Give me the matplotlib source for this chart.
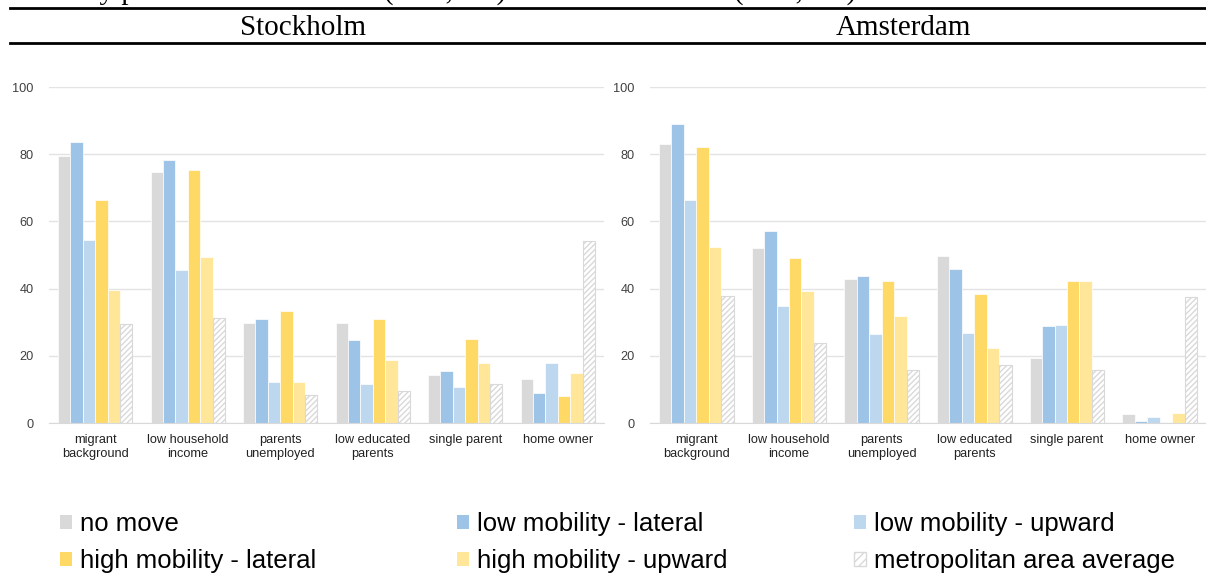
import numpy as np
import matplotlib.pyplot as plt
from matplotlib.patches import Patch
from matplotlib.lines import Line2D

categories = ["migrant\nbackground", "low household\nincome", "parents\nunemployed",
              "low educated\nparents", "single parent", "home owner"]
series = ["no move", "low mobility - lateral", "low mobility - upward",
          "high mobility - lateral", "high mobility - upward", "metropolitan area average"]

# values per series, one entry per category
stockholm = {
    "no move":                   [79.4, 74.7, 29.7, 29.9, 14.3, 13.1],
    "low mobility - lateral":    [83.5, 78.4, 31.0, 24.7, 15.4, 8.9],
    "low mobility - upward":     [54.5, 45.4, 12.2, 11.5, 10.7, 17.9],
    "high mobility - lateral":   [66.3, 75.2, 33.4, 31.0, 25.0, 7.9],
    "high mobility - upward":    [39.7, 49.3, 12.3, 18.7, 17.9, 14.9],
    "metropolitan area average": [29.4, 31.2, 8.3, 9.6, 11.7, 54.2],
}
amsterdam = {
    "no move":                   [83.0, 52.1, 43.0, 49.8, 19.3, 2.6],
    "low mobility - lateral":    [89.0, 57.1, 43.8, 45.7, 28.9, 0.7],
    "low mobility - upward":     [66.3, 34.9, 26.5, 26.8, 29.2, 1.9],
    "high mobility - lateral":   [82.0, 49.1, 42.4, 38.3, 42.3, 0.0],
    "high mobility - upward":    [52.4, 39.4, 31.8, 22.2, 42.3, 2.9],
    "metropolitan area average": [37.9, 23.9, 15.7, 17.2, 15.7, 37.4],
}

colors = ["#d9d9d9", "#9dc3e6", "#bdd7ee", "#ffd966", "#ffe699", "white"]

plt.rcParams['font.family'] = ['Liberation Sans', 'DejaVu Sans']
plt.rcParams['hatch.linewidth'] = 1.0

fig = plt.figure(figsize=(12.06, 5.77), dpi=100)

W, H = 1206, 577
def box(x0, x1, y0, y1):
    return [x0 / W, 1 - y1 / H, (x1 - x0) / W, (y1 - y0) / H]

ax1 = fig.add_axes(box(49, 604, 87, 423))
ax2 = fig.add_axes(box(650, 1206, 87, 423))

x = np.arange(len(categories))
bw = 0.134
for ax, data in [(ax1, stockholm), (ax2, amsterdam)]:
    for i, s in enumerate(series):
        off = (i - 2.5) * bw
        if s == "metropolitan area average":
            ax.bar(x + off, data[s], bw, facecolor="white", edgecolor="#d9d9d9",
                   hatch="//////", linewidth=0.8, zorder=2)
        else:
            ax.bar(x + off, data[s], bw, color=colors[i], edgecolor="white",
                   linewidth=0.5, zorder=2)
    ax.set_ylim(0, 100)
    ax.set_xlim(-0.5, len(categories) - 0.5)
    ax.set_yticks([0, 20, 40, 60, 80, 100])
    ax.yaxis.grid(True, color="#e3e3e3", linewidth=1)
    ax.set_axisbelow(True)
    ax.set_xticks(x)
    ax.set_xticklabels(categories, fontsize=9.2, color="#222222", linespacing=1.25)
    ax.tick_params(axis="both", length=0, labelsize=9.2)
    ax.tick_params(axis="y", pad=11, labelcolor="#404040")
    ax.tick_params(axis="x", pad=8)
    for sp in ["top", "right", "left"]:
        ax.spines[sp].set_visible(False)
    ax.spines["bottom"].set_color("#d9d9d9")

# header with rules
fig.add_artist(Line2D([10 / W, 1], [1 - 8 / H] * 2, color="black", linewidth=2))
fig.add_artist(Line2D([10 / W, 1], [1 - 43 / H] * 2, color="black", linewidth=2))
fig.text(303 / W, 1 - 28 / H, "Stockholm", fontsize=21, family="Liberation Serif",
         ha="center", va="center")
fig.text(903 / W, 1 - 28 / H, "Amsterdam", fontsize=21, family="Liberation Serif",
         ha="center", va="center")
# caption line, cut off at the top edge as in the source
fig.text(12 / W, 1 + 1.5 / H, "Mobility patterns in Stockholm (N=1,086) and in Amsterdam (N=1,126)",
         fontsize=21, family="Liberation Serif", ha="left", va="baseline")

# legend, three columns
handles = []
for i, s in enumerate(series):
    if s == "metropolitan area average":
        handles.append(Patch(facecolor="white", edgecolor="#d9d9d9", hatch="////"))
    else:
        handles.append(Patch(facecolor=colors[i], edgecolor="none"))

cols = [(60, [0, 3]), (457, [1, 4]), (854, [2, 5])]
for xpos, idx in cols:
    fig.legend([handles[j] for j in idx], [series[j] for j in idx],
               loc="upper left", bbox_to_anchor=(xpos / W, 1 - 512 / H),
               frameon=False, fontsize=18.5, handlelength=0.47, handleheight=0.47,
               handletextpad=0.3, labelspacing=0.52, borderaxespad=0, borderpad=0)

fig.savefig("out.png", dpi=100)
